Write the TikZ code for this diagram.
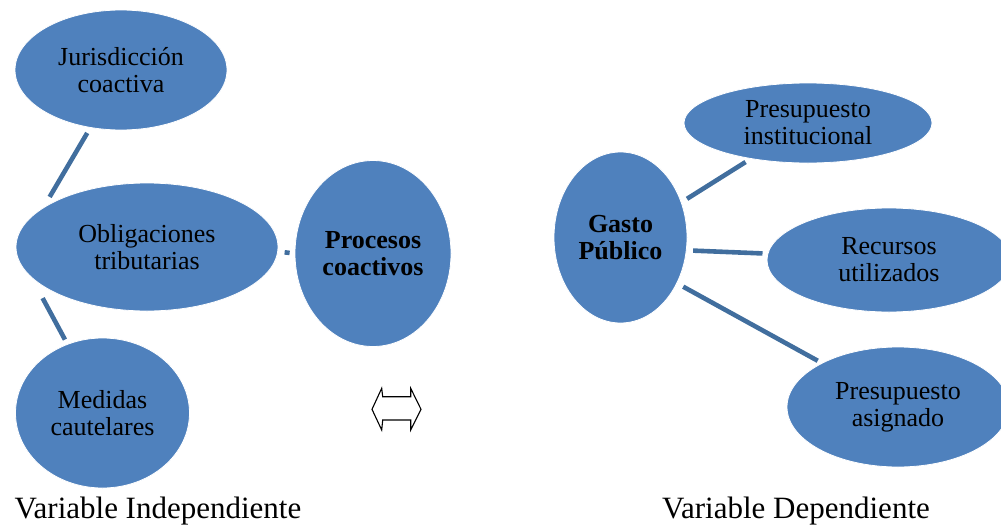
\documentclass[tikz,border=0pt]{standalone}
\usepackage{fontspec}
\setmainfont{Liberation Serif}
\usetikzlibrary{shapes.geometric}
\definecolor{ellfill}{RGB}{79,129,189}
\definecolor{linkcol}{RGB}{65,110,158}
\tikzset{
  bub/.style={ellipse, fill=ellfill, draw=white, line width=0.8pt, inner sep=0pt,
    align=center, font=\fontsize{26}{27}\selectfont},
  bubb/.style={bub, font=\fontsize{26}{27}\selectfont\bfseries},
  link/.style={draw=linkcol, line width=4.6pt, line cap=butt},
  caption/.style={font=\fontsize{31}{33}\selectfont, inner sep=0pt},
  dblarrow/.style={draw=black, line width=1.1pt, line join=miter}
}
\begin{document}
\begin{tikzpicture}[x=1pt, y=-1pt]
\useasboundingbox (0,0) rectangle (1001,530);
\clip (0,0) rectangle (1001,530);
% left side
\node[bub, minimum width=212pt, minimum height=120pt] (jur) at (121,70) {Jurisdicción\\coactiva};
\node[bub, minimum width=262pt, minimum height=128pt] (obl) at (147,247) {Obligaciones\\tributarias};
\node[bub, minimum width=174pt, minimum height=150pt] (med) at (102.5,413) {Medidas\\cautelares};
\node[bubb, minimum width=156pt, minimum height=186pt] (proc) at (373,253.5) {Procesos\\coactivos};
% right side
\node[bubb, minimum width=133pt, minimum height=171pt] (gas) at (620.5,237.5) {Gasto\\Público};
\node[bub, minimum width=248pt, minimum height=80pt] (inst) at (808,123) {Presupuesto\\institucional};
\node[bub, minimum width=244pt, minimum height=104pt] (rec) at (889,260) {Recursos\\utilizados};
\node[bub, minimum width=222pt, minimum height=120pt] (asig) at (898,407) {Presupuesto\\asignado};
% connectors
\draw[link, shorten <=6pt, shorten >=12pt] (jur.242) -- (obl.159);
\draw[link, shorten <=23pt, shorten >=5pt] (obl.195) -- (med.117.2);
\draw[link, shorten <=6.6pt, shorten >=5pt] (obl.-2.6) -- (proc.180);
\draw[link, shorten <=6.5pt, shorten >=6pt] (gas.30.4) -- (inst.212.3);
\draw[link, shorten <=6.5pt, shorten >=5pt] (gas.-11.1) -- (rec.177.3);
\draw[link, shorten <=7pt, shorten >=4.6pt] (gas.-39.2) -- (asig.150.9);
% double arrow symbol
\draw[dblarrow] (372,409.3) -- (381.7,388.3) -- (382.7,396.7) -- (410.7,396.7) -- (410.7,388.3)
  -- (421,409.3) -- (410.7,430) -- (410.7,420) -- (382.7,420) -- (381.7,430) -- cycle;
% captions
\node[caption] (vi) at (158,511) {Variable Independiente};
\node[caption] (vd) at (796,511) {Variable Dependiente};
\end{tikzpicture}
\end{document}
